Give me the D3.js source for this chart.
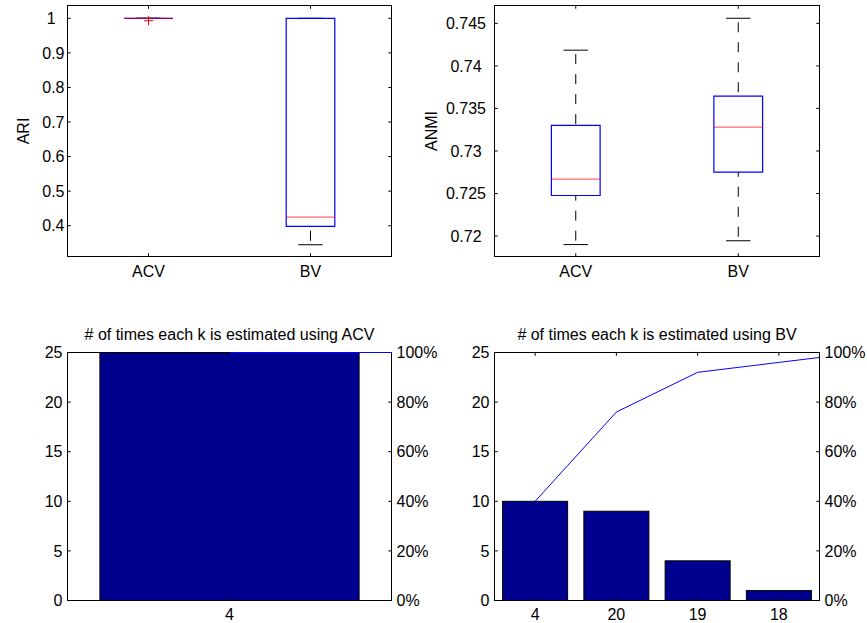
<!DOCTYPE html>
<html><head><meta charset="utf-8">
<script src="https://cdn.jsdelivr.net/npm/d3@7"></script>
<style>
body{margin:0;background:#fff}
text{font-family:"Liberation Sans",Arial,Helvetica,sans-serif;font-size:16px;fill:#000}
</style>
</head><body>
<svg id="c" width="867" height="623" xmlns="http://www.w3.org/2000/svg"></svg>
<script>
// ---------- data ----------
const groups = ["ACV", "BV"];
// box stats per group: [lower whisker, q1, median, q3, upper whisker]
const ariStats = [[1, 1, 1, 1, 1], [0.345, 0.398, 0.425, 1, 1]];
const ariOutliers = [[0.993], []];
const ariTicks = [0.4, 0.5, 0.6, 0.7, 0.8, 0.9, 1];
const ariDomain = [0.311, 1.037];

const anmiStats = [[0.7190, 0.72477, 0.72669, 0.7330, 0.74185],
                   [0.71945, 0.72752, 0.7328, 0.73646, 0.7456]];
const anmiOutliers = [[], []];
const anmiTicks = [0.72, 0.725, 0.73, 0.735, 0.74, 0.745];
const anmiDomain = [0.7176, 0.7471];

const acvK = ["4"], acvCounts = [25], acvTotal = 25;
const bvK = ["4", "20", "19", "18"], bvCounts = [10, 9, 4, 1], bvTotal = 25;
const countTicks = [0, 5, 10, 15, 20, 25];
const pctTicks = [0, 20, 40, 60, 80, 100];

// ---------- drawing ----------
const svg = d3.select("#c");
const TL = 3.25; // tick length
const SPACE = 16 * 0.278;

function frame(g, x0, x1, y0, y1) {
  g.append("rect").attr("x", x0).attr("y", y0).attr("width", x1 - x0).attr("height", y1 - y0)
    .attr("fill", "none").attr("stroke", "#000").attr("stroke-width", 1);
}

function boxPanel(x0, x1, y0, y1, domain, stats, outliers, ticks, ylabel, labelRight, ylabX) {
  const g = svg.append("g");
  const x = d3.scaleLinear().domain([0.5, groups.length + 0.5]).range([x0, x1]);
  const y = d3.scaleLinear().domain(domain).range([y1, y0]);
  const maxLen = d3.max(ticks, t => String(t).length);
  ticks.forEach(t => {
    const yy = y(t);
    g.append("line").attr("x1", x0).attr("x2", x0 + TL).attr("y1", yy).attr("y2", yy).attr("stroke", "#000");
    g.append("line").attr("x1", x1).attr("x2", x1 - TL).attr("y1", yy).attr("y2", yy).attr("stroke", "#000");
    const s = String(t);
    g.append("text").attr("x", labelRight - (maxLen - s.length) * SPACE).attr("y", yy + 5.7)
      .attr("text-anchor", "end").text(s);
  });
  groups.forEach((name, i) => {
    const xx = x(i + 1);
    g.append("line").attr("x1", xx).attr("x2", xx).attr("y1", y1).attr("y2", y1 - TL).attr("stroke", "#000");
    g.append("line").attr("x1", xx).attr("x2", xx).attr("y1", y0).attr("y2", y0 + TL).attr("stroke", "#000");
    g.append("text").attr("x", xx).attr("y", y1 + 20).attr("text-anchor", "middle").text(name);
  });
  const hw = x(1.15) - x(1), cw = x(1.075) - x(1);
  stats.forEach((s, i) => {
    const xx = x(i + 1);
    const [lw, q1, med, q3, uw] = s;
    [[uw, q3], [lw, q1]].forEach(([a, b]) => {
      if (a !== b) {
        g.append("line").attr("x1", xx).attr("x2", xx).attr("y1", y(a)).attr("y2", y(b))
          .attr("stroke", "#000").attr("stroke-dasharray", "10,10").attr("stroke-dashoffset", 16);
      }
    });
    [lw, uw].forEach(v => {
      g.append("line").attr("x1", xx - cw).attr("x2", xx + cw).attr("y1", y(v)).attr("y2", y(v))
        .attr("stroke", "#000");
    });
    const bx0 = xx - hw, bx1 = xx + hw, by0 = y(q3), by1 = y(q1);
    g.append("path").attr("d", `M${bx0},${by0}H${bx1}V${by1}H${bx0}Z`)
      .attr("fill", "none").attr("stroke", "#0000ff").attr("stroke-width", 1.2);
    g.append("line").attr("x1", bx0).attr("x2", bx1).attr("y1", y(med)).attr("y2", y(med))
      .attr("stroke", "#ff0000").attr("stroke-opacity", 0.6).attr("stroke-width", 1.2);
    outliers[i].forEach(o => {
      const yy = y(o);
      g.append("path").attr("d", `M${xx - 4.5},${yy}H${xx + 4.5}M${xx},${yy - 4.5}V${yy + 4.5}`)
        .attr("stroke", "#ff0000").attr("fill", "none");
    });
  });
  frame(g, x0, x1, y0, y1);
  g.append("text").attr("transform", `translate(${ylabX},${(y0 + y1) / 2}) rotate(-90)`)
    .attr("text-anchor", "middle").text(ylabel);
}

let clipId = 0;
function paretoPanel(x0, x1, y0, y1, keys, counts, total, title) {
  const g = svg.append("g");
  const n = keys.length;
  const x = d3.scaleLinear().domain([0.5, n + 0.5]).range([x0, x1]);
  const y = d3.scaleLinear().domain([0, d3.max(countTicks)]).range([y1, y0]);
  const yp = d3.scaleLinear().domain([0, 100]).range([y1, y0]);
  counts.forEach((c, i) => {
    g.append("rect").attr("x", x(i + 0.6)).attr("y", y(c)).attr("width", x(i + 1.4) - x(i + 0.6))
      .attr("height", y(0) - y(c)).attr("fill", "#00008f").attr("stroke", "#000").attr("stroke-width", 1);
  });
  countTicks.forEach(t => {
    const yy = y(t);
    g.append("line").attr("x1", x0).attr("x2", x0 + TL).attr("y1", yy).attr("y2", yy).attr("stroke", "#000");
    g.append("text").attr("x", x0 - 5).attr("y", yy + 5.7).attr("text-anchor", "end").text(t);
  });
  pctTicks.forEach(t => {
    const yy = yp(t);
    g.append("line").attr("x1", x1).attr("x2", x1 - TL).attr("y1", yy).attr("y2", yy).attr("stroke", "#000");
    g.append("text").attr("x", x1 + 5).attr("y", yy + 5.7).attr("text-anchor", "start").text(t + "%");
  });
  keys.forEach((k, i) => {
    const xx = x(i + 1);
    g.append("line").attr("x1", xx).attr("x2", xx).attr("y1", y1).attr("y2", y1 - TL).attr("stroke", "#000");
    g.append("line").attr("x1", xx).attr("x2", xx).attr("y1", y0).attr("y2", y0 + TL).attr("stroke", "#000");
    g.append("text").attr("x", xx).attr("y", y1 + 19.5).attr("text-anchor", "middle").text(k);
  });
  frame(g, x0, x1, y0, y1);
  const cum = d3.cumsum(counts);
  const pts = Array.from(cum, (v, i) => [i + 1, v]);
  pts.push([n + 1, total]);
  const id = "clip" + (clipId++);
  svg.append("clipPath").attr("id", id).append("rect")
    .attr("x", x0).attr("y", y0 - 1).attr("width", x1 - x0).attr("height", y1 - y0 + 1);
  g.append("path").attr("clip-path", `url(#${id})`)
    .attr("d", d3.line().x(d => x(d[0])).y(d => y(d[1] / total * d3.max(countTicks)))(pts))
    .attr("fill", "none").attr("stroke", "#0000ff").attr("stroke-width", 1);
  g.append("text").attr("x", (x0 + x1) / 2).attr("y", y0 - 13).attr("text-anchor", "middle").text(title);
}

boxPanel(67.5, 391.5, 5.5, 256.5, ariDomain, ariStats, ariOutliers, ariTicks, "ARI", 64.5, 28.5);
boxPanel(494.5, 819.5, 5.5, 256.5, anmiDomain, anmiStats, anmiOutliers, anmiTicks, "ANMI", 486, 436.5);
paretoPanel(67.5, 391.5, 352.5, 600.5, acvK, acvCounts, acvTotal, "# of times each k is estimated using ACV");
paretoPanel(494.5, 819.5, 352.5, 600.5, bvK, bvCounts, bvTotal, "# of times each k is estimated using BV");
</script>
</body></html>
